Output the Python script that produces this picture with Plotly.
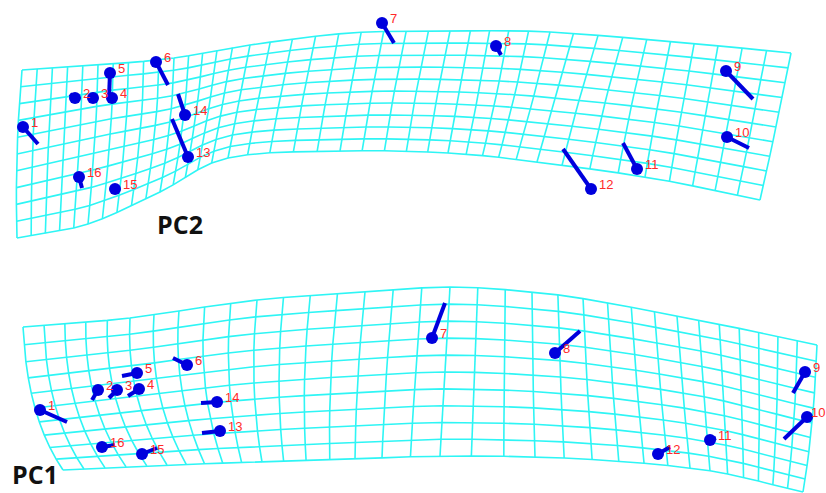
import numpy as np
import plotly.graph_objects as go

# ---------------- PC2 deformation grid (control curves by column index) ----------------
PC2_N_COLS = 39
PC2_N_ROWS = 10
PC2_TOP_COL = [0, 5, 10, 15, 19.5, 24, 29, 32.3, 36.5, 39]
PC2_TOP_X = [22, 98, 174, 250, 350, 450, 550, 630, 730, 791]
PC2_TOP_Y = [70, 65, 58, 45, 33, 31, 32, 38, 47, 53]
PC2_MID_COL = [0, 5, 10, 15, 20, 25, 30, 34, 39]
PC2_MID_X = [17, 95, 170, 239, 350, 459, 555, 657, 776]
PC2_MID_Y = [154, 137, 122, 101, 92, 92, 98, 109, 127]
PC2_BOT_COL = [0, 5, 10, 15, 20, 25, 30, 34, 39]
PC2_BOT_X = [17, 88, 160, 228, 340, 448, 537, 645, 760]
PC2_BOT_Y = [238, 224, 192, 158, 151, 153, 162, 177, 200]

# ---------------- PC1 deformation grid ----------------
PC1_N_COLS = 33
PC1_N_ROWS = 10
PC1_COL = [0, 5, 10, 14, 17, 20, 26, 33]
PC1_TOP_X = [23, 130, 257, 365, 450, 532, 677, 817]
PC1_TOP_Y = [327, 318, 300, 292, 287, 292, 316, 345]
PC1_MID_X = [35, 137, 254, 358, 445, 533, 683, 812]
PC1_MID_Y = [408, 396, 383, 376, 372, 375, 393, 423]
PC1_BOT_X = [63, 167, 262, 355, 440, 535, 690, 803]
PC1_BOT_Y = [470, 465, 462, 459, 456, 457, 468, 492]

# ---------------- Landmarks ----------------
LM_LABELS = ["1", "2", "3", "4", "5", "6", "7", "8", "9", "10",
             "11", "12", "13", "14", "15", "16"]

PC2_DOT_X = [23, 75, 93, 112, 110, 156, 382, 496, 726, 727, 637, 591, 188, 185, 115, 79]
PC2_DOT_Y = [127, 98, 98, 98, 73, 62, 23, 46, 71, 137, 169, 189, 157, 115, 189, 177]
PC2_END_X = [38, 70, 93, 112, 109, 168, 394, 501, 753, 749, 623, 563, 172, 178, 116, 82]
PC2_END_Y = [144, 94, 98, 98, 97, 85, 43, 55, 99, 148, 143, 149, 119, 94, 190, 188]

PC1_DOT_X = [40, 98, 117, 139, 137, 187, 432, 555, 805, 807, 710, 658, 220, 217, 142, 102]
PC1_DOT_Y = [410, 390, 390, 389, 373, 365, 338, 353, 372, 417, 440, 454, 431, 402, 454, 447]
PC1_END_X = [67, 92, 109, 128, 122, 173, 445, 580, 793, 784, 716, 670, 202, 201, 157, 115]
PC1_END_Y = [422, 400, 398, 396, 376, 358, 303, 331, 393, 439, 438, 447, 433, 403, 448, 445]

PANEL_TITLES = ["PC2", "PC1"]
PANEL_TITLE_X = [180, 35]
PANEL_TITLE_Y = [224, 493]
PANEL_TITLE_ANCHOR = ["middle", "bottom"]

GRID_COLOR = "#2EF5F5"
VEC_COLOR = "#0000DD"
LABEL_COLOR = "#FF2A2A"
W, H = 826, 493


def smooth(q, xk, yk):
    xk = np.asarray(xk, float)
    yk = np.asarray(yk, float)
    m = np.gradient(yk, xk)
    q = np.atleast_1d(np.asarray(q, float))
    out = np.empty_like(q)
    for n, v in enumerate(q):
        i = int(np.clip(np.searchsorted(xk, v) - 1, 0, len(xk) - 2))
        h = xk[i + 1] - xk[i]
        t = (v - xk[i]) / h
        h00 = 2 * t**3 - 3 * t**2 + 1
        h10 = t**3 - 2 * t**2 + t
        h01 = -2 * t**3 + 3 * t**2
        h11 = t**3 - t**2
        out[n] = h00 * yk[i] + h10 * h * m[i] + h01 * yk[i + 1] + h11 * h * m[i + 1]
    return out


def build_grid(ncols, nrows, top, mid, bot):
    cols = np.arange(ncols + 1)
    tx, ty = smooth(cols, top[0], top[1]), smooth(cols, top[0], top[2])
    mx, my = smooth(cols, mid[0], mid[1]), smooth(cols, mid[0], mid[2])
    bx, by = smooth(cols, bot[0], bot[1]), smooth(cols, bot[0], bot[2])
    t = np.linspace(0, 1, nrows + 1)[:, None]
    w0 = (1 - t) * (1 - 2 * t)
    w1 = 4 * t * (1 - t)
    w2 = t * (2 * t - 1)
    X = w0 * tx + w1 * mx + w2 * bx   # shape (rows, cols)
    Y = w0 * ty + w1 * my + w2 * by
    xs, ys = [], []
    for r in range(nrows + 1):
        xs += list(X[r]) + [None]
        ys += list(Y[r]) + [None]
    for c in range(ncols + 1):
        xs += list(X[:, c]) + [None]
        ys += list(Y[:, c]) + [None]
    return xs, ys


fig = go.Figure()

grids = [
    build_grid(PC2_N_COLS, PC2_N_ROWS,
               (PC2_TOP_COL, PC2_TOP_X, PC2_TOP_Y),
               (PC2_MID_COL, PC2_MID_X, PC2_MID_Y),
               (PC2_BOT_COL, PC2_BOT_X, PC2_BOT_Y)),
    build_grid(PC1_N_COLS, PC1_N_ROWS,
               (PC1_COL, PC1_TOP_X, PC1_TOP_Y),
               (PC1_COL, PC1_MID_X, PC1_MID_Y),
               (PC1_COL, PC1_BOT_X, PC1_BOT_Y)),
]
for gx, gy in grids:
    fig.add_trace(go.Scatter(x=gx, y=gy, mode="lines",
                             line=dict(color=GRID_COLOR, width=1.6),
                             hoverinfo="skip", showlegend=False))

panels = [(PC2_DOT_X, PC2_DOT_Y, PC2_END_X, PC2_END_Y),
          (PC1_DOT_X, PC1_DOT_Y, PC1_END_X, PC1_END_Y)]

annotations = []
for dx, dy, ex, ey in panels:
    vx, vy = [], []
    for a, b, c, d in zip(dx, dy, ex, ey):
        vx += [a, c, None]
        vy += [b, d, None]
    fig.add_trace(go.Scatter(x=vx, y=vy, mode="lines",
                             line=dict(color=VEC_COLOR, width=4),
                             hoverinfo="skip", showlegend=False))
    fig.add_trace(go.Scatter(x=dx, y=dy, mode="markers",
                             marker=dict(color=VEC_COLOR, size=12),
                             hoverinfo="skip", showlegend=False))
    for lab, a, b in zip(LM_LABELS, dx, dy):
        est_w = 8 * len(lab)
        shift = min(6, W - 1 - est_w - a)
        annotations.append(dict(x=a, y=b, text=lab, showarrow=False,
                                xanchor="left", yanchor="middle",
                                xshift=shift, yshift=5,
                                font=dict(family="Liberation Sans, Arial", size=13,
                                          color=LABEL_COLOR)))

for txt, tx, ty, anc in zip(PANEL_TITLES, PANEL_TITLE_X, PANEL_TITLE_Y, PANEL_TITLE_ANCHOR):
    annotations.append(dict(x=tx, y=ty, text="<b>%s</b>" % txt, showarrow=False,
                            xanchor="center", yanchor=anc,
                            font=dict(family="Open Sans, Liberation Sans", size=25,
                                      color="#111111")))

fig.update_layout(
    width=W, height=H,
    margin=dict(l=0, r=0, t=0, b=0),
    paper_bgcolor="white", plot_bgcolor="white",
    xaxis=dict(range=[0, W], visible=False, fixedrange=True),
    yaxis=dict(range=[H, 0], visible=False, fixedrange=True),
    annotations=annotations,
    showlegend=False,
)

fig.write_html("out.html")
